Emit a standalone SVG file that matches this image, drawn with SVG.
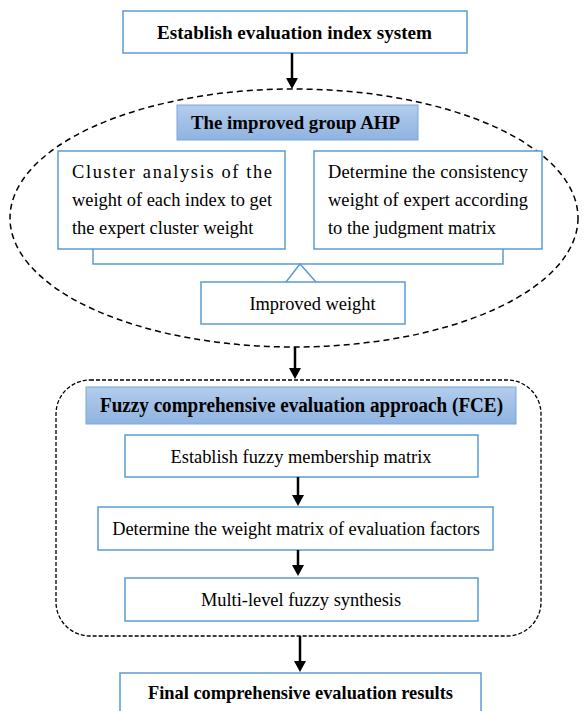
<svg xmlns="http://www.w3.org/2000/svg" width="588" height="711" viewBox="0 0 588 711">
<defs>
<linearGradient id="hdr" x1="0" y1="0" x2="0" y2="1">
<stop offset="0" stop-color="#b3cdec"/>
<stop offset="1" stop-color="#8fb3e0"/>
</linearGradient>
<style>
.box{fill:#fff;stroke:#5b9bd5;stroke-width:1.5}
.hdr{fill:url(#hdr);stroke:#7aa6dc;stroke-width:1}
.dash{fill:none;stroke:#000;stroke-width:1.5;stroke-dasharray:6,4}
.dash2{fill:none;stroke:#000;stroke-width:1.3;stroke-dasharray:4,2}
.t{font-family:"Liberation Serif","Times New Roman",serif;font-size:18.4px;fill:#000}
.b{font-weight:bold}
.c{text-anchor:middle}
.conn{stroke:#000;stroke-width:2.5;fill:none}
.br{stroke:#5b9bd5;stroke-width:1.5;fill:none}
</style>
</defs>
<g id="containers">
<ellipse class="dash" cx="294" cy="218" rx="284" ry="129"/>
<rect class="dash2" x="56" y="380" width="485" height="256" rx="34" ry="34"/>
</g>
<g id="n_top">
<rect class="box" x="123" y="11" width="344" height="42"/>
<text class="t b c" x="294.5" y="39" style="font-size:19.5px" textLength="275" lengthAdjust="spacingAndGlyphs">Establish evaluation index system</text>
</g>
<g id="n_ahp">
<rect class="hdr" x="177" y="105" width="241" height="35"/>
<text class="t b c" x="295.5" y="129" style="font-size:19.5px" textLength="209" lengthAdjust="spacingAndGlyphs">The improved group AHP</text>
</g>
<g id="n_cluster">
<rect class="box" x="58" y="151" width="227" height="98"/>
<text class="t" x="72" y="178" textLength="200" lengthAdjust="spacing">Cluster analysis of the</text>
<text class="t" x="72" y="206" textLength="200" lengthAdjust="spacing">weight of each index to get</text>
<text class="t" x="72" y="234">the expert cluster weight</text>
</g>
<g id="n_consist">
<rect class="box" x="314" y="151" width="228" height="98"/>
<text class="t" x="328" y="178" textLength="200" lengthAdjust="spacing">Determine the consistency</text>
<text class="t" x="328" y="206" textLength="200" lengthAdjust="spacing">weight of expert according</text>
<text class="t" x="328" y="234">to the judgment matrix</text>
</g>
<g id="n_improved">
<rect class="box" x="201" y="282" width="204" height="42"/>
<text class="t c" x="312.5" y="310">Improved weight</text>
</g>
<g id="n_fce">
<rect class="hdr" x="86" y="387" width="430" height="37"/>
<text class="t b c" x="301.5" y="412" style="font-size:20px" textLength="403" lengthAdjust="spacingAndGlyphs">Fuzzy comprehensive evaluation approach (FCE)</text>
</g>
<g id="n_membership">
<rect class="box" x="125" y="435" width="353" height="42"/>
<text class="t c" x="301" y="463">Establish fuzzy membership matrix</text>
</g>
<g id="n_weightmatrix">
<rect class="box" x="98" y="507" width="395" height="43"/>
<text class="t c" x="296" y="535">Determine the weight matrix of evaluation factors</text>
</g>
<g id="n_multilevel">
<rect class="box" x="125" y="578" width="353" height="43"/>
<text class="t c" x="301" y="606">Multi-level fuzzy synthesis</text>
</g>
<g id="n_final">
<rect class="box" x="120" y="673" width="361" height="50"/>
<text class="t b c" x="300.5" y="699" style="font-size:19px" textLength="305" lengthAdjust="spacingAndGlyphs">Final comprehensive evaluation results</text>
</g>
<g id="connectors">
<line class="conn" x1="292" y1="53" x2="292" y2="80"/>
<path d="M286,78 L298,78 L292,89 z" fill="#000"/>
<polyline class="br" points="93,249 93,264 503,264 503,249"/>
<polyline class="br" points="286,282 300,264 316,282"/>
<line class="conn" x1="295" y1="347" x2="295" y2="370"/>
<path d="M289,368 L301,368 L295,379 z" fill="#000"/>
<line class="conn" x1="298" y1="477" x2="298" y2="497"/>
<path d="M292,495 L304,495 L298,506 z" fill="#000"/>
<line class="conn" x1="298" y1="550" x2="298" y2="567"/>
<path d="M292,565 L304,565 L298,576 z" fill="#000"/>
<line class="conn" x1="300" y1="636" x2="300" y2="663"/>
<path d="M294,661 L306,661 L300,672 z" fill="#000"/>
</g>
</svg>
